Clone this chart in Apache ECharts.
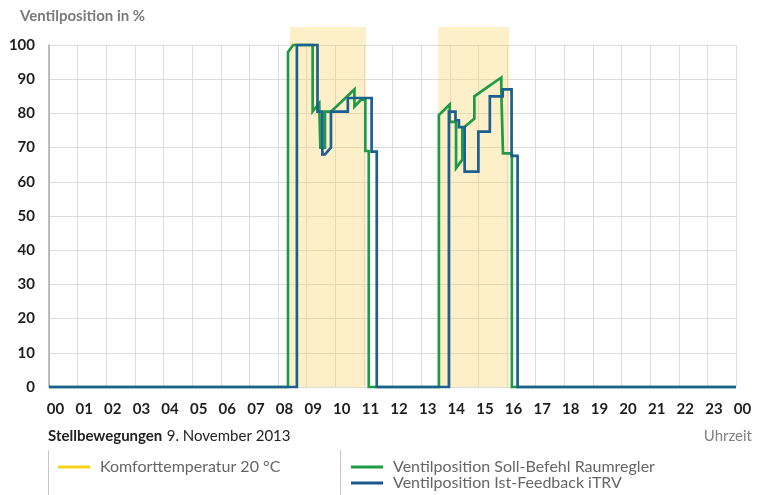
<!DOCTYPE html>
<html>
<head>
<meta charset="utf-8">
<script src="https://cdn.jsdelivr.net/npm/echarts@6/dist/echarts.min.js"></script>
<style>
html,body{margin:0;padding:0;background:#fff;}
#chart{width:763px;height:495px;}
</style>
</head>
<body>
<div id="chart"></div>
<script>
// ---- Data (hours of day, valve position in %) ----
const xTickLabels = ['00','01','02','03','04','05','06','07','08','09','10','11','12','13','14','15','16','17','18','19','20','21','22','23','00'];
const yTicks = [0,10,20,30,40,50,60,70,80,90,100];

const comfortStart = [8.42, 13.60];
const comfortEnd   = [11.08, 16.08];

const sollHours  = [0, 8.35, 8.35, 8.53, 9.21, 9.21, 9.44, 9.48, 9.48, 9.64, 9.64, 9.85, 10.67, 10.67, 10.90, 11.05, 11.05, 11.17, 11.17,
                    13.62, 13.62, 14.00, 14.00, 14.22, 14.22, 14.44, 14.44, 14.86, 14.86, 15.80, 15.80, 15.86, 15.86, 16.17, 16.17, 24];
const sollValues = [0, 0, 98, 100, 100, 80.6, 83, 83, 70, 70, 80.5, 80.5, 87, 82, 84, 84, 69, 69, 0,
                    0, 79.5, 82.6, 77.5, 77.5, 64, 66.5, 75.5, 78.5, 85, 90.5, 86.5, 86.5, 68.3, 68.3, 0, 0];

const istHours  = [0, 8.66, 8.66, 9.38, 9.38, 9.55, 9.55, 9.64, 9.85, 9.85, 10.44, 10.44, 11.27, 11.27, 11.45, 11.45,
                   13.97, 13.97, 14.20, 14.20, 14.32, 14.32, 14.52, 14.52, 15.00, 15.00, 15.40, 15.40, 15.85, 15.85, 16.16, 16.16, 16.37, 16.37, 24];
const istValues = [0, 0, 100, 100, 80.5, 80.5, 68, 68, 70, 80.5, 80.5, 84.5, 84.5, 68.8, 68.8, 0,
                   0, 80.5, 80.5, 78, 78, 76, 76, 63, 63, 74.7, 74.7, 85, 85, 87, 87, 67.6, 67.6, 0, 0];

const nameComfort = 'Komforttemperatur 20 °C';
const nameSoll = 'Ventilposition Soll-Befehl Raumregler';
const nameIst = 'Ventilposition Ist-Feedback iTRV';

// ---- Build ----
const sollData = sollHours.map((h, i) => [h, sollValues[i]]);
const istData = istHours.map((h, i) => [h, istValues[i]]);
const bandData = comfortStart.map((s, i) => [s, comfortEnd[i]]);

const FONT = 'Lato, "Open Sans", sans-serif';
const BAND_TOP = 105.26;

const legendCommon = {
  orient: 'horizontal', padding: 0, icon: 'rect', itemWidth: 32, itemHeight: 3,
  textStyle: {fontFamily: FONT, fontSize: 16, color: '#666', padding: [0, 0, 0, 5]},
  selectedMode: false
};

const chart = echarts.init(document.getElementById('chart'), null, {renderer: 'canvas'});
const option = {
  animation: false,
  backgroundColor: '#ffffff',
  textStyle: {fontFamily: FONT},
  title: [
    {text: 'Ventilposition in %', left: 20, top: 9, padding: 0,
     textStyle: {fontFamily: FONT, fontSize: 15, fontWeight: 'bold', color: '#7a7a7a'}},
    {text: '{b|Stellbewegungen} {n|9. November 2013}', left: 48, top: 427, padding: 0,
     textStyle: {rich: {
       b: {fontFamily: FONT, fontSize: 15, fontWeight: 'bold', color: '#222'},
       n: {fontFamily: FONT, fontSize: 15, fontWeight: 'normal', color: '#222'}
     }}},
    {text: 'Uhrzeit', right: 11, top: 429, padding: 0,
     textStyle: {fontFamily: FONT, fontSize: 15, fontWeight: 'normal', color: '#808080'}}
  ],
  grid: [
    {left: 49, right: 27, top: 45, bottom: 108, containLabel: false},
    {left: 49, right: 27, top: 27, bottom: 108, containLabel: false}
  ],
  xAxis: [
    {type: 'value', gridIndex: 0, min: 0, max: 24, interval: 1,
     axisLine: {show: false},
     axisTick: {show: false},
     splitLine: {show: true, lineStyle: {color: '#dcdcdc', width: 1}},
     axisLabel: {
       margin: 15, padding: [0, 0, 0, 13],
       fontFamily: FONT, fontSize: 15, fontWeight: 'bold', color: '#1e1e1e',
       formatter: (v) => xTickLabels[Math.round(v)]
     }},
    {type: 'value', gridIndex: 1, min: 0, max: 24, show: false}
  ],
  yAxis: [
    {type: 'value', gridIndex: 0, min: 0, max: 100, interval: 10,
     axisLine: {show: true, lineStyle: {color: '#a8a8a8', width: 1.5}},
     axisTick: {show: false},
     splitLine: {show: true, lineStyle: {color: '#dcdcdc', width: 1}},
     axisLabel: {
       margin: 14, padding: [8, 0, 0, 0],
       fontFamily: FONT, fontSize: 15, fontWeight: 'bold', color: '#1e1e1e',
       formatter: (v) => yTicks.indexOf(v) >= 0 ? String(v) : ''
     }},
    {type: 'value', gridIndex: 1, min: 0, max: BAND_TOP, show: false}
  ],
  legend: [
    Object.assign({}, legendCommon, {data: [nameComfort], left: 58, top: 459}),
    Object.assign({}, legendCommon, {data: [nameSoll], left: 351, top: 459}),
    Object.assign({}, legendCommon, {data: [nameIst], left: 351, top: 475})
  ],
  graphic: [
    {type: 'line', shape: {x1: 48.5, y1: 450, x2: 48.5, y2: 495}, style: {stroke: '#c8c8c8', lineWidth: 1}},
    {type: 'line', shape: {x1: 340.5, y1: 450, x2: 340.5, y2: 495}, style: {stroke: '#c8c8c8', lineWidth: 1}}
  ],
  series: [
    {
      name: nameComfort, type: 'custom', xAxisIndex: 1, yAxisIndex: 1, z: 1,
      itemStyle: {color: '#f6d21a'},
      encode: {x: [0, 1]},
      data: bandData,
      renderItem: function (params, api) {
        const p0 = api.coord([api.value(0), BAND_TOP]);
        const p1 = api.coord([api.value(1), 0]);
        return {
          type: 'rect',
          shape: {x: p0[0], y: p0[1], width: p1[0] - p0[0], height: p1[1] - p0[1]},
          style: {fill: 'rgba(249,215,110,0.38)'}
        };
      }
    },
    {
      name: nameSoll, type: 'line', xAxisIndex: 0, yAxisIndex: 0, z: 3,
      data: sollData, showSymbol: false, clip: false,
      itemStyle: {color: '#1f9a45'},
      lineStyle: {color: '#1f9a45', width: 2.7, join: 'miter'}
    },
    {
      name: nameIst, type: 'line', xAxisIndex: 0, yAxisIndex: 0, z: 4,
      data: istData, showSymbol: false, clip: false,
      itemStyle: {color: '#1b5a8e'},
      lineStyle: {color: '#1b6090', width: 2.7, join: 'miter'}
    }
  ]
};
chart.setOption(option);
</script>
</body>
</html>
